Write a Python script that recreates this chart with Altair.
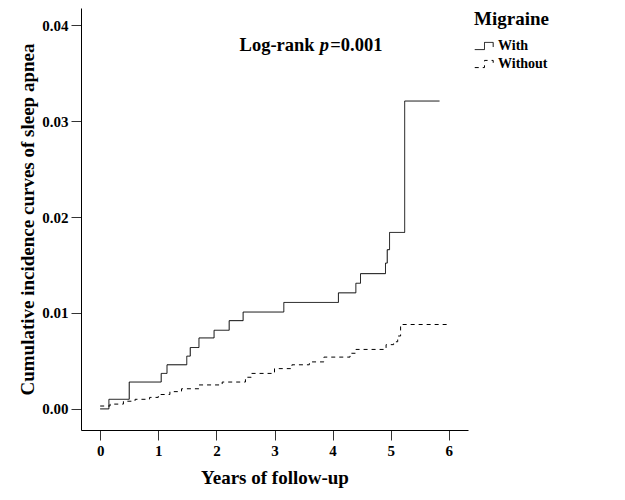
import altair as alt
import pandas as pd

# With migraine (solid step curve)
with_t = [0.0, 0.15, 0.50, 1.05, 1.15, 1.49, 1.55, 1.70, 1.96, 2.22, 2.46, 3.16,
          4.10, 4.40, 4.48, 4.91, 4.94, 4.98, 5.24, 5.84]
with_v = [0.0, 0.0010, 0.0028, 0.0037, 0.0046, 0.0055, 0.0064, 0.0074, 0.0082,
          0.0092, 0.0101, 0.0111, 0.0121, 0.0131, 0.0141, 0.0152, 0.0166, 0.0184,
          0.0321, 0.0321]

# Without migraine (dashed step curve)
without_t = [0.0, 0.17, 0.40, 0.60, 0.85, 1.00, 1.20, 1.40, 1.70, 2.10, 2.50, 2.60,
             3.00, 3.30, 3.60, 3.85, 4.30, 4.40, 4.92, 5.05, 5.12, 5.17, 6.00]
without_v = [0.0003, 0.0005, 0.0008, 0.0010, 0.0012, 0.0015, 0.0018, 0.0021, 0.0025,
             0.0028, 0.0033, 0.0037, 0.0042, 0.0046, 0.0049, 0.0054, 0.0058, 0.0062,
             0.0067, 0.0070, 0.0076, 0.0088, 0.0088]

groups = ["With", "Without"]
x_ticks = [0, 1, 2, 3, 4, 5, 6]
y_ticks = [0.0, 0.01, 0.02, 0.03, 0.04]

# annotation parts: text, x (years), y (value)
ann_text = ["Log-rank", "p", "=0.001"]
ann_x = [3.69, 3.78, 3.96]
ann_y = [0.0373, 0.0373, 0.0373]

FONT = "Liberation Serif"

df = pd.concat([
    pd.DataFrame({"t": with_t, "v": with_v, "g": groups[0]}),
    pd.DataFrame({"t": without_t, "v": without_v, "g": groups[1]}),
])

xs = alt.Scale(domain=[-0.33, 6.33], nice=False, zero=False)
ys = alt.Scale(domain=[-0.0022, 0.0418], nice=False, zero=False)

axis_common = dict(grid=False, domainColor="black", tickColor="#333333", labelColor="black",
                   titleColor="black", labelFont=FONT, titleFont=FONT, labelFontWeight="bold",
                   titleFontWeight="bold", labelFontSize=15, titleFontSize=19, tickSize=10,
                   labelPadding=3)

step_path = "M-1,0.35H-0.05V-0.35H0.8V0.1"

lines = alt.Chart(df).mark_line(interpolate="step-after", color="black", strokeWidth=1).encode(
    x=alt.X("t:Q", scale=xs, axis=alt.Axis(values=x_ticks, format="d", title="Years of follow-up",
                                           titlePadding=10, **axis_common)),
    y=alt.Y("v:Q", scale=ys, axis=alt.Axis(values=y_ticks, format=".2f",
                                           title="Cumulative incidence curves of sleep apnea",
                                           titlePadding=4, **axis_common)),
    strokeDash=alt.StrokeDash("g:N", scale=alt.Scale(domain=groups, range=[[1, 0], [4, 4]]),
                              legend=alt.Legend(title="Migraine", orient="none", legendX=393, legendY=2,
                                                symbolType=step_path, symbolSize=420,
                                                symbolStrokeColor="black", symbolStrokeWidth=1,
                                                symbolFillColor="transparent",
                                                labelFont=FONT, titleFont=FONT,
                                                labelFontWeight="bold", titleFontWeight="bold",
                                                labelColor="black", titleColor="black",
                                                labelFontSize=14, titleFontSize=19,
                                                labelOffset=2, rowPadding=0, titlePadding=6)),
)

ann = pd.DataFrame({"text": ann_text, "x": ann_x, "y": ann_y})

t1 = alt.Chart(ann.iloc[[0]]).mark_text(font=FONT, fontWeight="bold", fontSize=18.5, align="right",
                                         baseline="alphabetic", color="black").encode(
    x=alt.X("x:Q", scale=xs), y=alt.Y("y:Q", scale=ys), text="text:N")
t2 = alt.Chart(ann.iloc[[1]]).mark_text(font=FONT, fontWeight="bold", fontStyle="italic", fontSize=18.5,
                                         align="left", baseline="alphabetic", color="black").encode(
    x=alt.X("x:Q", scale=xs), y=alt.Y("y:Q", scale=ys), text="text:N")
t3 = alt.Chart(ann.iloc[[2]]).mark_text(font=FONT, fontWeight="bold", fontSize=18.5, align="left",
                                         baseline="alphabetic", color="black").encode(
    x=alt.X("x:Q", scale=xs), y=alt.Y("y:Q", scale=ys), text="text:N")

chart = alt.layer(lines, t1, t2, t3).properties(
    width=387, height=422,
    autosize=alt.AutoSizeParams(type="none"),
    padding={"left": 73, "top": 0, "right": 140, "bottom": 70},
    background="white",
).configure_view(stroke=None)

chart.save("out.html", embed_options={"renderer": "svg", "actions": False})
